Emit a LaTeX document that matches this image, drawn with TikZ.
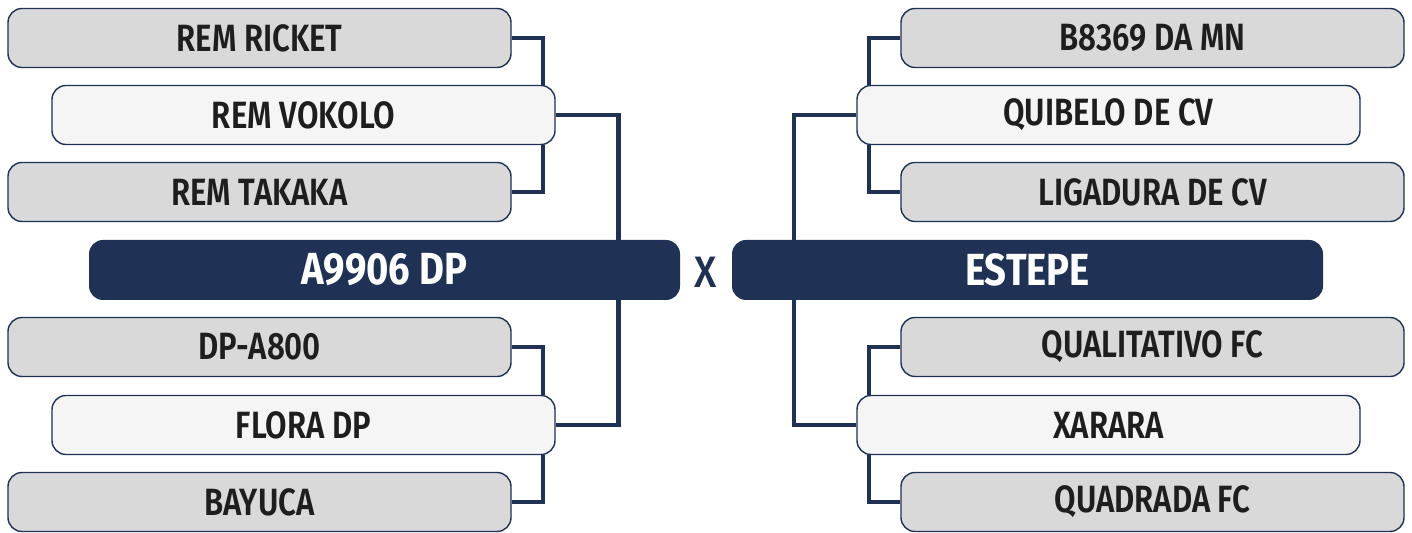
\documentclass[tikz,border=0pt]{standalone}
\usepackage{fontspec}
\setmainfont{Fira Sans SemiBold}[FakeStretch=0.82]
\newfontfamily\titlefont{Fira Sans Bold}[FakeStretch=0.85]
\newfontfamily\xfont{Fira Sans Medium}[FakeStretch=0.9]
\usetikzlibrary{backgrounds}
\definecolor{navy}{RGB}{31,49,85}
\definecolor{grayfill}{RGB}{217,217,217}
\definecolor{lightfill}{RGB}{245,245,245}
\definecolor{txt}{RGB}{30,30,30}
\tikzset{
  teambox/.style={draw=navy, line width=0.7pt, rounded corners=7pt,
    minimum width=251.5pt, minimum height=29.5pt, inner sep=0pt,
    text=txt, font=\fontsize{19}{21}\selectfont},
  gbox/.style={teambox, fill=grayfill},
  wbox/.style={teambox, fill=lightfill},
  homebox/.style={fill=navy, rounded corners=7pt, minimum width=295.5pt,
    minimum height=30pt, inner sep=0pt, text=white,
    font=\titlefont\fontsize{22.5}{24}\selectfont},
  link/.style={draw=navy, line width=2.1pt},
}
\begin{document}
\begin{tikzpicture}[x=0.5pt,y=-0.5pt]
\useasboundingbox (0,0) rectangle (1412,533);
% left
\node[gbox] (rick) at (259.5,38) {REM RICKET};
\node[wbox] (vok)  at (303.5,115) {REM VOKOLO};
\node[gbox] (tak)  at (259.5,192) {REM TAKAKA};
\node[homebox] (home) at (384.5,270) {A9906 DP};
\node[gbox] (dpa)  at (259.5,347) {DP-A800};
\node[wbox] (flo)  at (303.5,425) {FLORA DP};
\node[gbox] (bay)  at (259.5,502) {BAYUCA};
% center
\node[text=navy, font=\xfont\fontsize{22}{24}\selectfont] (x) at (706,272) {X};
% right
\node[gbox] (b83)  at (1152.5,38) {B8369 DA MN};
\node[wbox] (qui)  at (1108.5,115) {QUIBELO DE CV};
\node[gbox] (lig)  at (1152.5,192) {LIGADURA DE CV};
\node[homebox] (est) at (1027.5,270) {ESTEPE};
\node[gbox] (qua)  at (1152.5,347) {QUALITATIVO FC};
\node[wbox] (xar)  at (1108.5,425) {XARARA};
\node[gbox] (qdr)  at (1152.5,502) {QUADRADA FC};
\begin{pgfonlayer}{background}
\draw[link] (rick.east) -| ([xshift=-6.5pt]vok.north east);
\draw[link] (tak.east) -| ([xshift=-6.5pt]vok.south east);
\draw[link] (vok.east) -| ([xshift=-31pt]home.north east);
\draw[link] (dpa.east) -| ([xshift=-6.5pt]flo.north east);
\draw[link] (bay.east) -| ([xshift=-6.5pt]flo.south east);
\draw[link] (flo.east) -| ([xshift=-31pt]home.south east);
\draw[link] (b83.west) -| ([xshift=6.5pt]qui.north west);
\draw[link] (lig.west) -| ([xshift=6.5pt]qui.south west);
\draw[link] (qui.west) -| ([xshift=31pt]est.north west);
\draw[link] (qua.west) -| ([xshift=6.5pt]xar.north west);
\draw[link] (qdr.west) -| ([xshift=6.5pt]xar.south west);
\draw[link] (xar.west) -| ([xshift=31pt]est.south west);
\end{pgfonlayer}
\end{tikzpicture}
\end{document}
